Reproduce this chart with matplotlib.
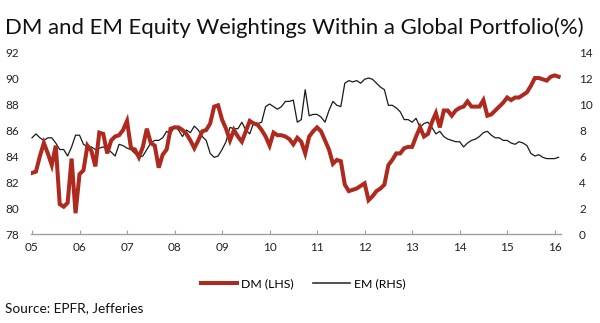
import matplotlib
matplotlib.use("Agg")
import matplotlib.pyplot as plt
from matplotlib.lines import Line2D

# monthly observations, Jan 2005 onwards
dm = [
    82.7, 82.8, 84.0, 85.0, 84.2, 83.3, 84.8, 80.3, 80.1, 80.4, 83.8, 79.6,
    82.6, 82.9, 84.8, 84.4, 83.2, 85.8, 85.7, 84.2, 85.2, 85.5, 85.6, 86.0,
    86.7, 84.6, 84.5, 83.9, 84.7, 86.1, 85.0, 84.8, 83.1, 84.1, 84.5, 86.1,
    86.2, 86.2, 86.0, 85.7, 85.2, 84.6, 85.2, 85.9, 86.0, 86.5, 87.8, 87.9,
    86.8, 86.1, 85.2, 86.0, 85.5, 85.1, 85.9, 86.7, 86.5, 86.4, 86.0, 85.5,
    84.8, 85.8, 85.6, 85.6, 85.5, 85.3, 84.9, 85.4, 85.1, 84.2, 85.5, 85.9,
    86.2, 85.9, 85.2, 84.5, 83.4, 83.7, 83.6, 81.8, 81.3, 81.4, 81.5, 81.7,
    81.9, 80.6, 80.9, 81.3, 81.5, 81.8, 83.3, 83.7, 84.2, 84.2, 84.6, 84.7,
    84.7, 85.5, 86.2, 85.5, 85.7, 86.6, 87.3, 86.2, 87.5, 87.5, 87.1, 87.5,
    87.7, 87.8, 88.2, 87.8, 87.8, 87.8, 88.3, 87.1, 87.2, 87.5, 87.8, 88.1,
    88.5, 88.3, 88.5, 88.5, 88.7, 88.9, 89.4, 90.0, 90.0, 89.9, 89.8, 90.1,
    90.2, 90.1,
]
em = [
    7.4, 7.7, 7.4, 7.2, 7.4, 7.4, 7.0, 6.5, 6.5, 6.0, 6.7, 7.6,
    7.6, 6.9, 6.7, 6.7, 6.5, 6.6, 6.7, 6.5, 6.3, 6.0, 6.9, 6.8,
    6.6, 6.5, 6.2, 5.9, 6.0, 6.5, 7.0, 7.2, 7.2, 7.4, 7.9, 7.7,
    8.3, 8.0, 7.5, 8.0, 7.8, 8.3, 8.0, 7.5, 7.2, 6.2, 5.9, 6.0,
    6.5, 7.1, 8.2, 8.1, 8.1, 8.6, 8.0, 7.7, 8.6, 8.5, 8.6, 9.8,
    10.0, 9.8, 9.6, 9.8, 10.2, 10.2, 10.3, 8.6, 8.8, 11.1, 9.1, 9.2,
    9.2, 9.0, 8.6, 9.5, 10.2, 9.9, 9.8, 11.6, 11.8, 11.7, 11.8, 11.6,
    11.9, 12.0, 11.9, 11.6, 11.3, 11.1, 9.9, 9.9, 9.7, 9.4, 8.8, 8.8,
    8.6, 8.9, 8.2, 8.5, 8.6, 8.2, 7.7, 7.9, 7.5, 7.3, 7.2, 7.1,
    7.1, 6.7, 7.0, 7.2, 7.3, 7.5, 7.8, 7.9, 7.6, 7.4, 7.4, 7.2,
    7.2, 7.0, 6.9, 7.1, 7.0, 6.8, 6.2, 6.0, 6.1, 5.9, 5.8, 5.8,
    5.8, 5.9,
]
year_labels = ["05", "06", "07", "08", "09", "10", "11", "12", "13", "14", "15", "16"]
left_ticks = [78, 80, 82, 84, 86, 88, 90, 92]
right_ticks = [0, 2, 4, 6, 8, 10, 12, 14]

RED = "#AE2A1F"
FONT = "Lato"
plt.rcParams["font.family"] = [FONT, "DejaVu Sans"]

fig = plt.figure(figsize=(6, 3.23), dpi=100)
ax = fig.add_axes([0.052, 0.2755, 0.883, 0.5635])
ax2 = ax.twinx()

months = list(range(len(dm)))
ax.plot(months, dm, color=RED, lw=2.9, solid_joinstyle="miter", zorder=3)
ax2.plot(months, em, color="#1a1a1a", lw=0.9)
ax.set_zorder(ax2.get_zorder() + 1)
ax.patch.set_visible(False)

ax.set_xlim(-0.2, 133.6)
ax.set_ylim(78, 92)
ax2.set_ylim(0, 14)
ax.set_xticks(range(0, 133, 12))
ax.set_xticklabels(year_labels)
ax.set_yticks(left_ticks)
ax2.set_yticks(right_ticks)

for a in (ax, ax2):
    for s in ("top", "left", "right"):
        a.spines[s].set_visible(False)
    a.spines["bottom"].set_color("#a0a0a0")
    a.spines["bottom"].set_linewidth(1.0)
    a.tick_params(axis="y", length=0, labelsize=8.5, labelcolor="#222222", pad=9)
ax2.spines["bottom"].set_visible(False)
ax.tick_params(axis="x", direction="in", length=3, color="#a0a0a0",
               labelsize=8.5, labelcolor="#222222", pad=6)
ax2.tick_params(axis="y", pad=13)

fig.text(0.008, 0.895, "DM and EM Equity Weightings Within a Global Portfolio(%)",
         fontsize=15.9, color="#111111", ha="left", va="baseline")

handles = [Line2D([], [], color=RED, lw=2.9), Line2D([], [], color="#333333", lw=1.2)]
fig.legend(handles, ["DM (LHS)", "EM (RHS)"], loc="center", bbox_to_anchor=(0.505, 0.12),
           ncol=2, frameon=False, fontsize=8.8, handlelength=3.0, handletextpad=0.3,
           columnspacing=1.6)

fig.text(0.008, 0.035, "Source: EPFR, Jefferies", fontsize=9.8, color="#111111",
         ha="left", va="baseline")

fig.savefig("out.png", dpi=100)
